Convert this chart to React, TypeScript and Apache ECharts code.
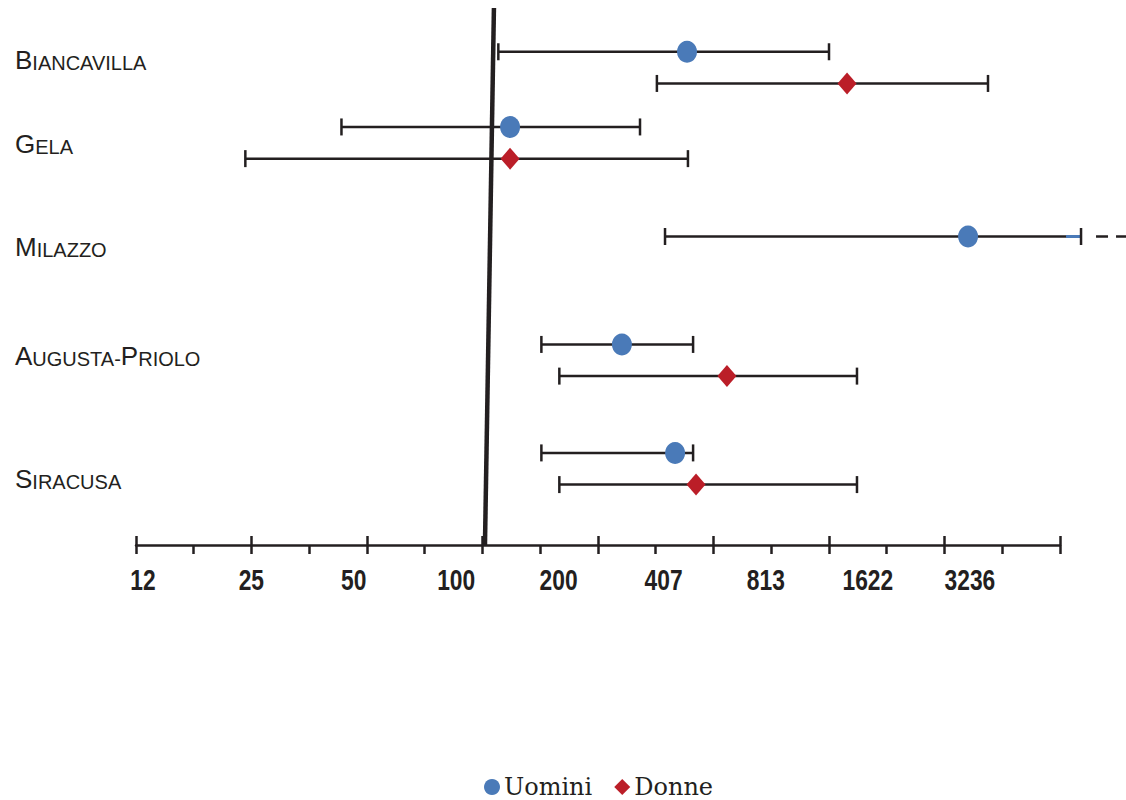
import React, { useEffect, useRef } from "react";
import * as echarts from "echarts";

// ---------- data ----------
const CATEGORIES = ["Biancavilla", "Gela", "Milazzo", "Augusta-Priolo", "Siracusa"];
const UOMINI_EST = [477, 144, 3196, 307, 440];
const UOMINI_LO = [133, 46, 411, 178, 178];
const UOMINI_HI = [1247, 347, 6866, 497, 497];
const UOMINI_OPEN = [false, false, true, false, false]; // upper bound continues past the scale
const DONNE_EST: (number | null)[] = [1409, 144, null, 625, 507];
const DONNE_LO: (number | null)[] = [389, 24, null, 201, 201];
const DONNE_HI: (number | null)[] = [3658, 480, null, 1507, 1507];
const TICK_LABELS = [12, 25, 50, 100, 200, 407, 813, 1622, 3236];
const REF_LINE = [129.1, 121.5]; // reference value at top / bottom of the plot

// ---------- layout / style ----------
const X_MIN = 11.45;
const X_MAX = 5955;
const TICK_STEPS = 16;
const ROW_POS = [1.11, 2.51, 4.55, 6.56, 8.58];
const PAIR_OFFSET = 0.295;
const LABEL_POS = [0.93, 2.5, 4.41, 6.44, 8.73];
const BLUE = "#4a7ab8";
const RED = "#bb1e28";
const INK = "#231f20";

function tickValues(): number[] {
  const r = X_MAX / X_MIN;
  const out: number[] = [];
  for (let k = 0; k <= TICK_STEPS; k++) out.push(X_MIN * Math.pow(r, k / TICK_STEPS));
  out[0] = X_MIN * 1.0001;
  out[TICK_STEPS] = X_MAX * 0.9999;
  return out;
}

function smallCaps(s: string): string {
  let out = "";
  let cur = "";
  let curBig: boolean | null = null;
  for (let i = 0; i < s.length; i++) {
    const big = i === 0 || s[i - 1] === "-" || s[i - 1] === " ";
    if (curBig !== null && big !== curBig) {
      out += `{${curBig ? "big" : "small"}|${cur}}`;
      cur = "";
    }
    curBig = big;
    cur += s[i].toUpperCase();
  }
  if (cur) out += `{${curBig ? "big" : "small"}|${cur}}`;
  return out;
}

export default function App() {
  const ref = useRef<HTMLDivElement>(null);

  useEffect(() => {
    if (!ref.current) return;
    const chart = echarts.init(ref.current, undefined, { renderer: "svg" });
    const ticks = tickValues();
    const majorTicks = ticks.filter((_, i) => i % 2 === 0);

    const barData: any[] = [];
    CATEGORIES.forEach((_, i) => {
      barData.push([UOMINI_LO[i], UOMINI_HI[i], ROW_POS[i] - PAIR_OFFSET, UOMINI_OPEN[i] ? 1 : 0]);
      if (DONNE_EST[i] != null) {
        barData.push([DONNE_LO[i], DONNE_HI[i], ROW_POS[i] + PAIR_OFFSET, 0]);
      }
    });
    const uData = CATEGORIES.map((_, i) => [UOMINI_EST[i], ROW_POS[i] - PAIR_OFFSET]);
    const dData: any[] = [];
    CATEGORIES.forEach((_, i) => {
      if (DONNE_EST[i] != null) dData.push([DONNE_EST[i], ROW_POS[i] + PAIR_OFFSET]);
    });

    const option: any = {
      animation: false,
      backgroundColor: "#ffffff",
      grid: { left: 136, right: 66, top: 8, bottom: 255, outerBoundsMode: "none", containLabel: false },
      legend: {
        data: [
          { name: "Uomini", icon: "circle" },
          { name: "Donne", icon: "diamond" },
        ],
        left: 479,
        top: 770,
        itemWidth: 16,
        itemHeight: 16,
        itemGap: 22,
        textStyle: { fontFamily: '"DejaVu Serif", serif', fontSize: 24, color: INK, padding: [0, 0, 0, -1] },
      },
      xAxis: [
        {
          type: "log",
          logBase: 2,
          min: X_MIN,
          max: X_MAX,
          position: "bottom",
          axisLine: { show: true, onZero: false, lineStyle: { color: INK, width: 2.5 } },
          axisTick: { show: true, inside: false, length: 9, customValues: ticks, lineStyle: { color: INK, width: 2.5 } },
          axisLabel: { show: false },
          splitLine: { show: false },
          minorTick: { show: false },
          minorSplitLine: { show: false },
        },
        {
          type: "log",
          logBase: 2,
          min: X_MIN,
          max: X_MAX,
          position: "top",
          offset: -537,
          axisLine: { show: false, onZero: false },
          axisTick: { show: true, inside: false, length: 9, customValues: majorTicks, lineStyle: { color: INK, width: 2.5 } },
          axisLabel: { show: false },
          splitLine: { show: false },
          minorTick: { show: false },
        },
      ],
      yAxis: {
        type: "value",
        inverse: true,
        min: 0,
        max: 10,
        axisLine: { show: false, onZero: false },
        axisTick: { show: false },
        splitLine: { show: false },
        axisLabel: {
          show: true,
          customValues: LABEL_POS,
          align: "left",
          margin: 121,
          formatter: (v: number) => {
            let best = 0;
            LABEL_POS.forEach((p, i) => {
              if (Math.abs(p - v) < Math.abs(LABEL_POS[best] - v)) best = i;
            });
            return smallCaps(CATEGORIES[best]);
          },
          rich: {
            big: { fontFamily: '"Liberation Sans", sans-serif', fontSize: 26, color: INK, verticalAlign: "bottom", lineHeight: 30 },
            small: { fontFamily: '"Liberation Sans", sans-serif', fontSize: 20, color: INK, verticalAlign: "bottom", lineHeight: 26 },
          },
        },
      },
      series: [
        {
          type: "line",
          name: "ref",
          data: [
            [REF_LINE[0], 0],
            [REF_LINE[1], 10],
          ],
          symbol: "none",
          showSymbol: false,
          silent: true,
          lineStyle: { color: INK, width: 4.5 },
          z: 1,
        },
        {
          type: "custom",
          name: "ci",
          clip: false,
          silent: true,
          encode: { x: [0, 1], y: 2 },
          data: barData,
          z: 2,
          renderItem: (params: any, api: any) => {
            const lo = api.value(0);
            const hi = api.value(1);
            const y = api.value(2);
            const open = api.value(3);
            const p1 = api.coord([lo, y]);
            const p2 = api.coord([hi, y]);
            const cap = 8.5;
            const style = { stroke: INK, lineWidth: 2.5 };
            const children: any[] = [
              { type: "line", shape: { x1: p1[0], y1: p1[1], x2: p2[0], y2: p2[1] }, style },
              { type: "line", shape: { x1: p1[0], y1: p1[1] - cap, x2: p1[0], y2: p1[1] + cap }, style },
            ];
            if (open) {
              children.push({
                type: "line",
                shape: { x1: p2[0] - 15, y1: p2[1], x2: p2[0], y2: p2[1] },
                style: { stroke: BLUE, lineWidth: 3 },
              });
              children.push({
                type: "line",
                shape: { x1: p2[0] + 15, y1: p2[1], x2: p2[0] + 60, y2: p2[1] },
                style: { stroke: INK, lineWidth: 2.5, lineDash: [12, 8] },
              });
            }
            children.push({ type: "line", shape: { x1: p2[0], y1: p2[1] - cap, x2: p2[0], y2: p2[1] + cap }, style });
            return { type: "group", children };
          },
        },
        {
          type: "scatter",
          name: "Uomini",
          data: uData,
          symbol: "circle",
          symbolSize: [20, 22],
          itemStyle: { color: BLUE, opacity: 1 },
          z: 3,
        },
        {
          type: "scatter",
          name: "Donne",
          data: dData,
          symbol: "diamond",
          symbolSize: [19, 22],
          itemStyle: { color: RED, opacity: 1 },
          z: 3,
        },
      ],
    };
    chart.setOption(option);

    // Tick labels: condensed bold numerals placed through the x axis scale
    const axisY = chart.convertToPixel({ yAxisIndex: 0 }, 10) as number;
    const labelEls = TICK_LABELS.map((v) => {
      const px = chart.convertToPixel({ xAxisIndex: 0 }, v) as number;
      return {
        type: "text",
        x: px,
        y: axisY + 20,
        scaleX: 0.76,
        silent: true,
        style: {
          text: String(v),
          fontFamily: '"Liberation Sans", Arial, sans-serif',
          fontWeight: "bold",
          fontSize: 30,
          fill: INK,
          align: "center",
          verticalAlign: "top",
        },
      };
    });
    chart.setOption({ graphic: { elements: labelEls } });

    return () => chart.dispose();
  }, []);

  return <div ref={ref} style={{ position: "fixed", left: 0, top: 0, width: 1126, height: 800 }} />;
}
